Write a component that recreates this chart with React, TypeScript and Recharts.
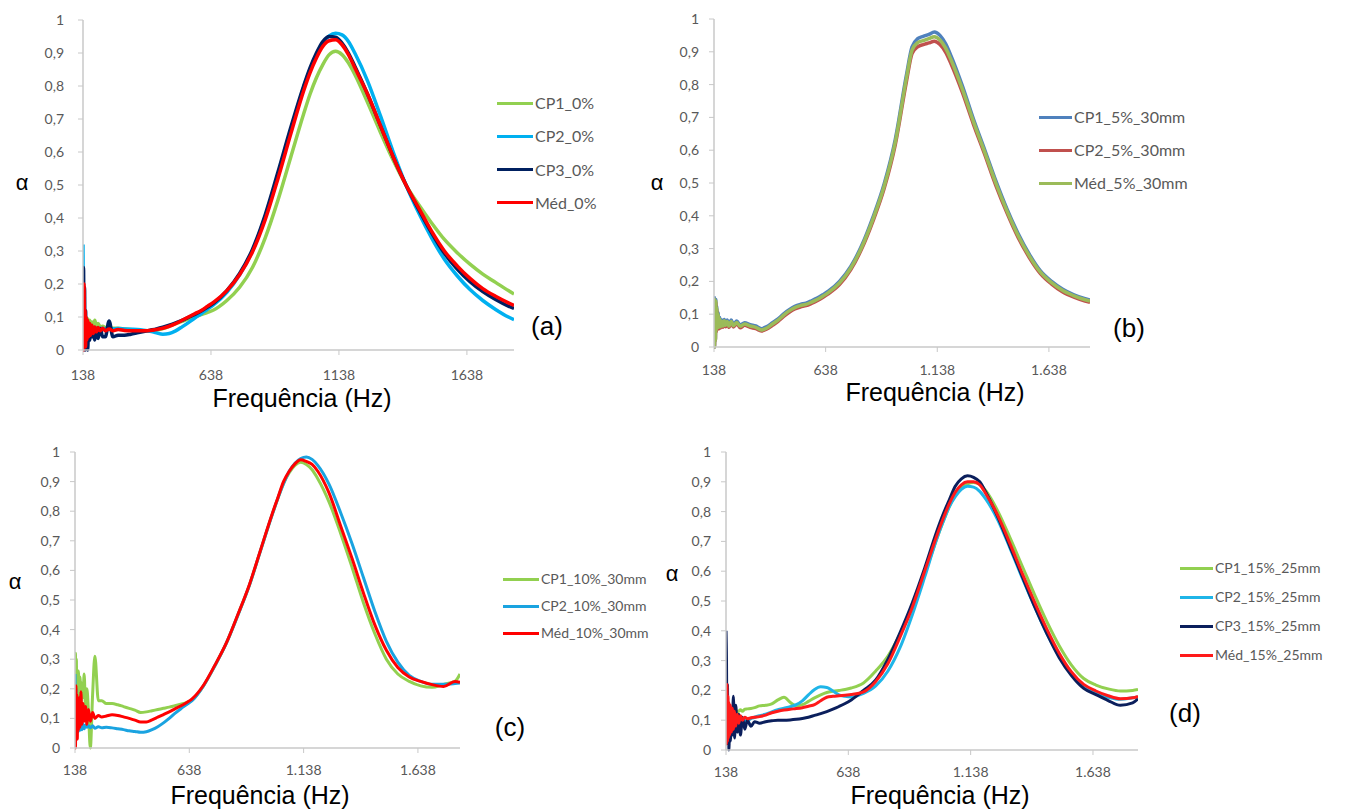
import React from "react";
import { LineChart, Line, XAxis, YAxis } from "recharts";

// shared frequency grid (Hz): dense at the noisy low end
const freq = [
  138, 140, 142, 144, 146, 148, 150, 153, 156, 160, 164, 168, 173, 178, 184, 190, 197, 205, 215, 225, 240, 255, 275,
  300, 325, 350, 375, 400, 425, 450, 475, 500, 525, 550, 575, 600, 625, 650,
  700, 750, 800, 850, 900, 950, 1000, 1025, 1050, 1075, 1100, 1125, 1150, 1175, 1200, 1250, 1300, 1350, 1400, 1450,
  1500, 1550, 1600, 1650, 1700, 1750, 1800, 1822,
];

const xTicks = [138, 638, 1138, 1638];
const yTicks = [0, 0.1, 0.2, 0.3, 0.4, 0.5, 0.6, 0.7, 0.8, 0.9, 1];

// (a) 0%
const aCP1 = [
  0.1, 0.06, 0.1, 0.07, 0.1, 0.07, 0.09, 0.08, 0.095, 0.075, 0.09, 0.075, 0.085, 0.07, 0.09, 0.072, 0.08, 0.07, 0.072, 0.068, 0.068, 0.066, 0.066,
  0.064, 0.062, 0.06, 0.058, 0.058, 0.06, 0.065, 0.072, 0.08, 0.087, 0.094, 0.1, 0.107, 0.114, 0.122,
  0.15, 0.19, 0.25, 0.34, 0.455, 0.585, 0.715, 0.775, 0.825, 0.865, 0.895, 0.905, 0.895, 0.87, 0.835, 0.75, 0.66, 0.575, 0.5, 0.44,
  0.385, 0.335, 0.295, 0.26, 0.23, 0.205, 0.18, 0.17,
];
const aCP2 = [
  0.32, 0.08, 0.14, 0.05, 0.1, 0.04, 0.08, 0.05, 0.075, 0.055, 0.07, 0.06, 0.068, 0.062, 0.068, 0.064, 0.067, 0.065, 0.066, 0.064, 0.066, 0.064, 0.065,
  0.064, 0.063, 0.062, 0.06, 0.057, 0.052, 0.048, 0.05, 0.058, 0.07, 0.083, 0.097, 0.11, 0.124, 0.138,
  0.175, 0.228, 0.3, 0.405, 0.53, 0.665, 0.795, 0.85, 0.895, 0.93, 0.952, 0.96, 0.955, 0.935, 0.9, 0.815, 0.71, 0.6, 0.5, 0.415,
  0.34, 0.275, 0.225, 0.183, 0.15, 0.123, 0.1, 0.092,
];
const aCP3 = [
  0.18, 0.25, 0.05, 0.19, 0.0, 0.12, 0.02, 0.08, 0.0, 0.06, 0.03, 0.07, 0.04, 0.055, 0.03, 0.06, 0.035, 0.065, 0.04, 0.04, 0.088, 0.04, 0.045,
  0.045, 0.048, 0.052, 0.056, 0.06, 0.064, 0.069, 0.075, 0.082, 0.09, 0.099, 0.108, 0.118, 0.13, 0.143,
  0.18, 0.232, 0.305, 0.41, 0.54, 0.675, 0.8, 0.855, 0.9, 0.935, 0.95, 0.948, 0.93, 0.9, 0.86, 0.775, 0.68, 0.585, 0.5, 0.425,
  0.355, 0.293, 0.245, 0.207, 0.177, 0.153, 0.133, 0.126,
];
const aMed = [
  0.15, 0.0, 0.2, 0.03, 0.12, 0.01, 0.1, 0.03, 0.09, 0.04, 0.08, 0.045, 0.075, 0.05, 0.07, 0.055, 0.068, 0.058, 0.066, 0.058, 0.064, 0.058, 0.062,
  0.059, 0.058, 0.058, 0.058, 0.059, 0.062, 0.066, 0.072, 0.08, 0.09, 0.1, 0.11, 0.12, 0.133, 0.146,
  0.18, 0.228, 0.297, 0.395, 0.52, 0.655, 0.785, 0.84, 0.885, 0.92, 0.937, 0.94, 0.925, 0.895, 0.855, 0.775, 0.68, 0.585, 0.5, 0.43,
  0.36, 0.3, 0.255, 0.217, 0.186, 0.163, 0.143, 0.135,
];

// (b) 5% 30mm
const bCP1 = [
  0.155, 0.0, 0.135, 0.02, 0.145, 0.055, 0.125, 0.065, 0.105, 0.065, 0.09, 0.066, 0.082, 0.068, 0.084, 0.07, 0.082, 0.068, 0.082, 0.069, 0.079, 0.067, 0.074,
  0.068, 0.064, 0.056, 0.062, 0.074, 0.086, 0.101, 0.114, 0.124, 0.13, 0.134, 0.141, 0.149, 0.159, 0.17,
  0.2, 0.245, 0.31, 0.396, 0.497, 0.633, 0.83, 0.915, 0.94, 0.947, 0.953, 0.96, 0.95, 0.925, 0.887, 0.797, 0.695, 0.602, 0.507, 0.421,
  0.346, 0.283, 0.232, 0.2, 0.176, 0.159, 0.147, 0.143,
];
const bCP2 = [
  0.145, 0.0, 0.125, 0.02, 0.135, 0.045, 0.115, 0.055, 0.095, 0.055, 0.08, 0.058, 0.074, 0.06, 0.076, 0.062, 0.074, 0.06, 0.074, 0.061, 0.071, 0.059, 0.066,
  0.06, 0.056, 0.049, 0.055, 0.066, 0.078, 0.093, 0.106, 0.116, 0.122, 0.126, 0.133, 0.141, 0.151, 0.162,
  0.19, 0.235, 0.3, 0.384, 0.483, 0.617, 0.81, 0.895, 0.915, 0.922, 0.927, 0.932, 0.922, 0.899, 0.863, 0.777, 0.679, 0.588, 0.493, 0.409,
  0.334, 0.273, 0.224, 0.192, 0.168, 0.152, 0.14, 0.136,
];
const bMed = [
  0.15, 0.0, 0.13, 0.02, 0.14, 0.05, 0.12, 0.06, 0.1, 0.06, 0.085, 0.062, 0.078, 0.064, 0.08, 0.066, 0.078, 0.064, 0.078, 0.065, 0.075, 0.063, 0.07,
  0.064, 0.06, 0.052, 0.058, 0.07, 0.082, 0.097, 0.11, 0.12, 0.126, 0.13, 0.137, 0.145, 0.155, 0.166,
  0.195, 0.24, 0.305, 0.39, 0.49, 0.625, 0.82, 0.905, 0.928, 0.934, 0.94, 0.946, 0.936, 0.912, 0.875, 0.787, 0.687, 0.595, 0.5, 0.415,
  0.34, 0.278, 0.228, 0.196, 0.172, 0.156, 0.144, 0.14,
];

// (c) 10% 30mm
const cCP1 = [
  0.26, 0.32, 0.18, 0.3, 0.15, 0.25, 0.2, 0.26, 0.17, 0.24, 0.15, 0.22, 0.17, 0.25, 0.14, 0.2, 0.12, 0.0, 0.18, 0.31, 0.16, 0.16, 0.15,
  0.15, 0.146, 0.14, 0.134, 0.128, 0.12, 0.122, 0.126, 0.13, 0.134, 0.138, 0.143, 0.148, 0.153, 0.162,
  0.21, 0.278, 0.354, 0.448, 0.548, 0.668, 0.787, 0.842, 0.893, 0.93, 0.955, 0.965, 0.958, 0.94, 0.91, 0.83, 0.725, 0.61, 0.49, 0.385,
  0.3, 0.25, 0.225, 0.21, 0.205, 0.215, 0.225, 0.25,
];
const cCP2 = [
  0.25, 0.05, 0.2, 0.04, 0.12, 0.06, 0.1, 0.055, 0.09, 0.06, 0.085, 0.062, 0.08, 0.065, 0.078, 0.07, 0.075, 0.068, 0.075, 0.067, 0.072, 0.068, 0.07,
  0.068, 0.065, 0.062, 0.058, 0.056, 0.053, 0.055, 0.062, 0.072, 0.085, 0.1, 0.117, 0.132, 0.146, 0.16,
  0.21, 0.278, 0.354, 0.448, 0.548, 0.668, 0.787, 0.843, 0.893, 0.935, 0.962, 0.978, 0.983, 0.975, 0.955, 0.89, 0.795, 0.69, 0.575, 0.46,
  0.36, 0.29, 0.245, 0.225, 0.215, 0.215, 0.218, 0.22,
];
const cMed = [
  0.2, 0.0, 0.21, 0.05, 0.18, 0.03, 0.16, 0.06, 0.17, 0.07, 0.19, 0.08, 0.15, 0.09, 0.14, 0.08, 0.13, 0.09, 0.12, 0.1, 0.11, 0.105, 0.108,
  0.112, 0.11, 0.105, 0.1, 0.094, 0.088, 0.088, 0.095, 0.104, 0.113, 0.122, 0.132, 0.142, 0.153, 0.166,
  0.212, 0.28, 0.355, 0.45, 0.55, 0.67, 0.79, 0.845, 0.9, 0.935, 0.96, 0.974, 0.968, 0.958, 0.935, 0.86, 0.75, 0.64, 0.523, 0.415,
  0.33, 0.272, 0.24, 0.225, 0.214, 0.208, 0.225, 0.222,
];

// (d) 15% 25mm
const dCP1 = [
  0.12, 0.08, 0.15, 0.07, 0.13, 0.08, 0.12, 0.09, 0.12, 0.1, 0.12, 0.11, 0.125, 0.115, 0.13, 0.13, 0.135, 0.13, 0.137, 0.138, 0.139, 0.142, 0.148,
  0.15, 0.155, 0.168, 0.177, 0.16, 0.148, 0.152, 0.163, 0.175, 0.185, 0.193, 0.197, 0.2, 0.203, 0.208,
  0.225, 0.265, 0.315, 0.39, 0.48, 0.59, 0.71, 0.765, 0.815, 0.855, 0.88, 0.893, 0.898, 0.892, 0.87, 0.8, 0.71, 0.615, 0.52, 0.43,
  0.35, 0.285, 0.24, 0.218, 0.205, 0.198, 0.2, 0.203,
];
const dCP2 = [
  0.15, 0.05, 0.12, 0.04, 0.1, 0.05, 0.09, 0.05, 0.085, 0.06, 0.08, 0.05, 0.08, 0.065, 0.09, 0.075, 0.095, 0.09, 0.1, 0.1, 0.105, 0.11, 0.115,
  0.12, 0.128, 0.135, 0.14, 0.145, 0.152, 0.165, 0.185, 0.203, 0.212, 0.21, 0.198, 0.185, 0.18, 0.178,
  0.19, 0.215, 0.265, 0.345, 0.455, 0.58, 0.71, 0.765, 0.815, 0.85, 0.875, 0.885, 0.882, 0.868, 0.842, 0.77, 0.675, 0.575, 0.48, 0.39,
  0.315, 0.255, 0.215, 0.19, 0.177, 0.17, 0.175, 0.178,
];
const dCP3 = [
  0.4, 0.3, 0.05, 0.22, 0.02, 0.15, 0.0, 0.12, 0.03, 0.13, 0.05, 0.18, 0.04, 0.15, 0.06, 0.12, 0.05, 0.11, 0.07, 0.1, 0.08, 0.095, 0.09,
  0.095, 0.098, 0.1, 0.1, 0.101, 0.103, 0.106, 0.11, 0.116, 0.122, 0.129, 0.137, 0.146, 0.156, 0.168,
  0.2, 0.235, 0.305, 0.395, 0.495, 0.61, 0.735, 0.79, 0.838, 0.885, 0.91, 0.92, 0.915, 0.9, 0.865, 0.78, 0.68, 0.58, 0.48, 0.39,
  0.31, 0.25, 0.207, 0.186, 0.166, 0.15, 0.158, 0.172,
];
const dMed = [
  0.2, 0.02, 0.22, 0.03, 0.18, 0.04, 0.16, 0.05, 0.15, 0.06, 0.14, 0.07, 0.13, 0.08, 0.12, 0.09, 0.115, 0.1, 0.11, 0.105, 0.108, 0.11, 0.112,
  0.117, 0.125, 0.13, 0.134, 0.137, 0.139, 0.142, 0.147, 0.152, 0.165, 0.177, 0.18, 0.182, 0.184, 0.186,
  0.195, 0.23, 0.29, 0.38, 0.48, 0.6, 0.72, 0.775, 0.825, 0.865, 0.89, 0.9, 0.9, 0.89, 0.86, 0.785, 0.69, 0.59, 0.495, 0.405,
  0.325, 0.262, 0.22, 0.198, 0.182, 0.172, 0.175, 0.18,
];

type Series = { name: string; color: string; values: number[] };

const AXIS = "#c8c8c8";
const LABEL = "#595959";
const TICK_FONT = "Lato, 'Liberation Sans', sans-serif";
const BIG_FONT = "'Liberation Sans', Arial, sans-serif";

const fmtY = (v: number) => (v === 0 ? "0" : v === 1 ? "1" : v.toFixed(1).replace(".", ","));
const fmtPlain = (v: number) => String(v);
const fmtDot = (v: number) =>
  v >= 1000 ? `${Math.floor(v / 1000)}.${String(v % 1000).padStart(3, "0")}` : String(v);

type PanelProps = {
  left: number;
  top: number;
  width: number;
  height: number;
  margin: { top: number; right: number; bottom: number; left: number };
  yWidth: number;
  yTickMargin: number;
  xTickMargin: number;
  xFmt: (v: number) => string;
  series: Series[];
  strokeWidth: number;
};

function Panel(p: PanelProps) {
  const rows = freq.map((f, i) => {
    const row: Record<string, number> = { f };
    p.series.forEach((s, k) => {
      row[`s${k}`] = s.values[i];
    });
    return row;
  });
  return (
    <div style={{ position: "absolute", left: p.left, top: p.top }}>
      <LineChart width={p.width} height={p.height} data={rows} margin={p.margin}>
        <XAxis
          type="number"
          dataKey="f"
          domain={[138, 1822]}
          ticks={xTicks}
          interval={0}
          allowDataOverflow
          height={30}
          tickSize={5}
          tickMargin={p.xTickMargin}
          tickFormatter={p.xFmt}
          axisLine={{ stroke: AXIS, strokeWidth: 1.5 }}
          tickLine={{ stroke: AXIS }}
          tick={{ fill: LABEL, fontSize: 14, fontFamily: TICK_FONT }}
        />
        <YAxis
          type="number"
          domain={[0, 1]}
          ticks={yTicks}
          interval={0}
          width={p.yWidth}
          tickSize={5}
          tickMargin={p.yTickMargin}
          tickFormatter={fmtY}
          axisLine={{ stroke: AXIS, strokeWidth: 1.5 }}
          tickLine={{ stroke: AXIS }}
          tick={{ fill: LABEL, fontSize: 14, fontFamily: TICK_FONT }}
        />
        {p.series.map((s, k) => (
          <Line
            key={s.name}
            type="monotone"
            dataKey={`s${k}`}
            stroke={s.color}
            strokeWidth={p.strokeWidth}
            dot={false}
            isAnimationActive={false}
          />
        ))}
      </LineChart>
    </div>
  );
}

function Legend({ x, y, gap, lineW, fontSize, items }: { x: number; y: number; gap: number; lineW: number; fontSize: number; items: Series[] }) {
  return (
    <>
      {items.map((s, i) => (
        <div
          key={s.name}
          style={{
            position: "absolute",
            left: x,
            top: y + i * gap,
            transform: "translateY(-50%)",
            display: "flex",
            alignItems: "center",
            fontFamily: TICK_FONT,
            fontSize,
            color: LABEL,
            whiteSpace: "nowrap",
            lineHeight: 1,
          }}
        >
          <span style={{ display: "inline-block", width: lineW, height: 3, background: s.color, marginRight: 2 }} />
          {s.name}
        </div>
      ))}
    </>
  );
}

function Label({ x, y, size, text }: { x: number; y: number; size: number; text: string }) {
  return (
    <div
      style={{
        position: "absolute",
        left: x,
        top: y,
        transform: "translate(-50%, -50%)",
        fontFamily: BIG_FONT,
        fontSize: size,
        color: "#000",
        whiteSpace: "nowrap",
        lineHeight: 1,
      }}
    >
      {text}
    </div>
  );
}

const seriesA: Series[] = [
  { name: "CP1_0%", color: "#92d050", values: aCP1 },
  { name: "CP2_0%", color: "#00b0f0", values: aCP2 },
  { name: "CP3_0%", color: "#002060", values: aCP3 },
  { name: "Méd_0%", color: "#ff0000", values: aMed },
];
const seriesB: Series[] = [
  { name: "CP1_5%_30mm", color: "#4f81bd", values: bCP1 },
  { name: "CP2_5%_30mm", color: "#c0504d", values: bCP2 },
  { name: "Méd_5%_30mm", color: "#9bbb59", values: bMed },
];
const seriesC: Series[] = [
  { name: "CP1_10%_30mm", color: "#92d050", values: cCP1 },
  { name: "CP2_10%_30mm", color: "#1aa3e0", values: cCP2 },
  { name: "Méd_10%_30mm", color: "#ff0000", values: cMed },
];
const seriesD: Series[] = [
  { name: "CP1_15%_25mm", color: "#92d050", values: dCP1 },
  { name: "CP2_15%_25mm", color: "#1fb5e8", values: dCP2 },
  { name: "CP3_15%_25mm", color: "#0b1f5c", values: dCP3 },
  { name: "Méd_15%_25mm", color: "#ff1a1a", values: dMed },
];

export default function App() {
  return (
    <div style={{ position: "absolute", left: 0, top: 0, width: 1345, height: 809, background: "#fff", overflow: "hidden" }}>
      <Panel
        left={0}
        top={0}
        width={600}
        height={410}
        margin={{ top: 20, right: 86, bottom: 30, left: 0 }}
        yWidth={83}
        yTickMargin={14}
        xTickMargin={15}
        xFmt={fmtPlain}
        series={seriesA}
        strokeWidth={3.5}
      />
      <Panel
        left={640}
        top={0}
        width={560}
        height={410}
        margin={{ top: 19, right: 110, bottom: 33, left: 0 }}
        yWidth={74}
        yTickMargin={10}
        xTickMargin={13}
        xFmt={fmtDot}
        series={seriesB}
        strokeWidth={3.5}
      />
      <Panel
        left={0}
        top={420}
        width={600}
        height={389}
        margin={{ top: 32, right: 140, bottom: 31, left: 0 }}
        yWidth={75}
        yTickMargin={10}
        xTickMargin={12}
        xFmt={fmtDot}
        series={seriesC}
        strokeWidth={3}
      />
      <Panel
        left={640}
        top={420}
        width={600}
        height={389}
        margin={{ top: 32, right: 102, bottom: 29, left: 0 }}
        yWidth={86}
        yTickMargin={10}
        xTickMargin={12}
        xFmt={fmtDot}
        series={seriesD}
        strokeWidth={3}
      />

      <Legend x={497} y={103} gap={33.3} lineW={36} fontSize={16} items={seriesA} />
      <Legend x={1039} y={117} gap={33} lineW={33} fontSize={16} items={seriesB} />
      <Legend x={503} y={579} gap={27} lineW={36} fontSize={14} items={seriesC} />
      <Legend x={1180} y={568} gap={29} lineW={33} fontSize={14} items={seriesD} />

      <Label x={22} y={183} size={22} text="α" />
      <Label x={657} y={183} size={22} text="α" />
      <Label x={15} y={582} size={22} text="α" />
      <Label x={672} y={574} size={22} text="α" />

      <Label x={302} y={398} size={25} text="Frequência (Hz)" />
      <Label x={935} y={392} size={25} text="Frequência (Hz)" />
      <Label x={260} y={795} size={25} text="Frequência (Hz)" />
      <Label x={940} y={795} size={25} text="Frequência (Hz)" />

      <Label x={547} y={326} size={26} text="(a)" />
      <Label x={1129} y={328} size={26} text="(b)" />
      <Label x={510} y={727} size={26} text="(c)" />
      <Label x={1185} y={713} size={26} text="(d)" />
    </div>
  );
}
